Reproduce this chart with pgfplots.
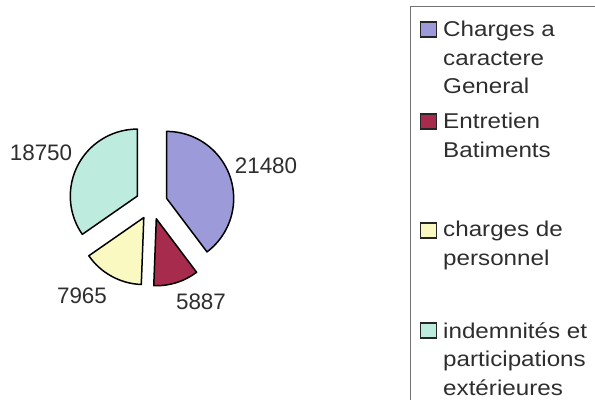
\documentclass[border=0pt]{standalone}
\usepackage{pgfplots}
\pgfplotsset{compat=1.18}
\usepackage{pgfplotstable}
\usepackage{fontspec}
\setmainfont{Liberation Sans}
\newfontfamily\legfont[FakeStretch=1.13]{Liberation Sans}
\definecolor{cpurple}{HTML}{9C9AD8}
\definecolor{cred}{HTML}{A62B4C}
\definecolor{cyellow}{HTML}{FBF9C2}
\definecolor{cteal}{HTML}{BDEBDD}
\definecolor{ctext}{HTML}{2E2E2E}

\pgfplotstableread{
id value
1 21480
2 5887
3 7965
4 18750
}\piedata

\begin{document}
\begin{tikzpicture}
\useasboundingbox (0,0) rectangle (595bp,400bp);
\pgfplotstablegetelem{0}{value}\of\piedata \edef\va{\pgfplotsretval}
\pgfplotstablegetelem{1}{value}\of\piedata \edef\vb{\pgfplotsretval}
\pgfplotstablegetelem{2}{value}\of\piedata \edef\vc{\pgfplotsretval}
\pgfplotstablegetelem{3}{value}\of\piedata \edef\vd{\pgfplotsretval}
\edef\tot{\fpeval{\va+\vb+\vc+\vd}}
\edef\aA{90}
\edef\aB{\fpeval{round(\aA-360*\va/\tot,3)}}
\edef\aC{\fpeval{round(\aB-360*\vb/\tot,3)}}
\edef\aD{\fpeval{round(\aC-360*\vc/\tot,3)}}
\edef\aE{\fpeval{round(\aD-360*\vd/\tot,3)}}
\def\cx{151.5}\def\cy{196.5}\def\R{67}\def\dd{16}
\edef\pAx{\fpeval{round(\cx+\dd*cosd((\aA+\aB)/2),3)}}
\edef\pAy{\fpeval{round(\cy+\dd*sind((\aA+\aB)/2),3)}}
\edef\pBx{\fpeval{round(\cx+\dd*cosd((\aB+\aC)/2),3)}}
\edef\pBy{\fpeval{round(\cy+\dd*sind((\aB+\aC)/2),3)}}
\edef\pCx{\fpeval{round(\cx+\dd*cosd((\aC+\aD)/2),3)}}
\edef\pCy{\fpeval{round(\cy+\dd*sind((\aC+\aD)/2),3)}}
\edef\pDx{\fpeval{round(\cx+\dd*cosd((\aD+\aE)/2),3)}}
\edef\pDy{\fpeval{round(\cy+\dd*sind((\aD+\aE)/2),3)}}
\begin{axis}[
  x=1bp, y=1bp, xmin=0, xmax=595, ymin=0, ymax=400,
  scale only axis, hide axis, clip=false,
]
\filldraw[fill=cpurple, draw=black, line width=1.5pt, line join=round]
  (axis cs:\pAx,\pAy) -- ++(\aA:\R bp) arc[start angle=\aA, end angle=\aB, radius=\R bp] -- cycle;
\filldraw[fill=cred, draw=black, line width=1.5pt, line join=round]
  (axis cs:\pBx,\pBy) -- ++(\aB:\R bp) arc[start angle=\aB, end angle=\aC, radius=\R bp] -- cycle;
\filldraw[fill=cyellow, draw=black, line width=1.5pt, line join=round]
  (axis cs:\pCx,\pCy) -- ++(\aC:\R bp) arc[start angle=\aC, end angle=\aD, radius=\R bp] -- cycle;
\filldraw[fill=cteal, draw=black, line width=1.5pt, line join=round]
  (axis cs:\pDx,\pDy) -- ++(\aD:\R bp) arc[start angle=\aD, end angle=\aE, radius=\R bp] -- cycle;

\node[text=ctext, font=\fontsize{22.5}{26}\selectfont] at (axis cs:266,234) {\va};
\node[text=ctext, font=\fontsize{22.5}{26}\selectfont] at (axis cs:201,98) {\vb};
\node[text=ctext, font=\fontsize{22.5}{26}\selectfont] at (axis cs:82,104) {\vc};
\node[text=ctext, font=\fontsize{22.5}{26}\selectfont] at (axis cs:41,247) {\vd};

% legend
\draw[black!55, line width=0.9pt] (axis cs:410,393.3) rectangle (axis cs:660,-40);
\begin{scope}[every node/.style={anchor=base west, inner sep=0pt, text=ctext, font=\legfont\fontsize{21.5}{26}\selectfont}]
\filldraw[fill=cpurple, draw=black!85, line width=1.3pt] (axis cs:420.5,363) rectangle (axis cs:436.5,378);
\node at (axis cs:443,364) {Charges a};
\node at (axis cs:443,335) {caractere};
\node at (axis cs:443,306.5) {General};
\filldraw[fill=cred, draw=black!85, line width=1.3pt] (axis cs:420.5,271) rectangle (axis cs:436.5,286);
\node at (axis cs:443,272) {Entretien};
\node at (axis cs:443,243) {Batiments};
\filldraw[fill=cyellow, draw=black!85, line width=1.3pt] (axis cs:420.5,162) rectangle (axis cs:436.5,177);
\node at (axis cs:443,163.3) {charges de};
\node at (axis cs:443,135) {personnel};
\filldraw[fill=cteal, draw=black!85, line width=1.3pt] (axis cs:420.5,62) rectangle (axis cs:436.5,77);
\node at (axis cs:443,61.7) {indemnités et};
\node at (axis cs:443,33.3) {participations};
\node at (axis cs:443,5) {extérieures};
\end{scope}
\end{axis}
\end{tikzpicture}
\end{document}
